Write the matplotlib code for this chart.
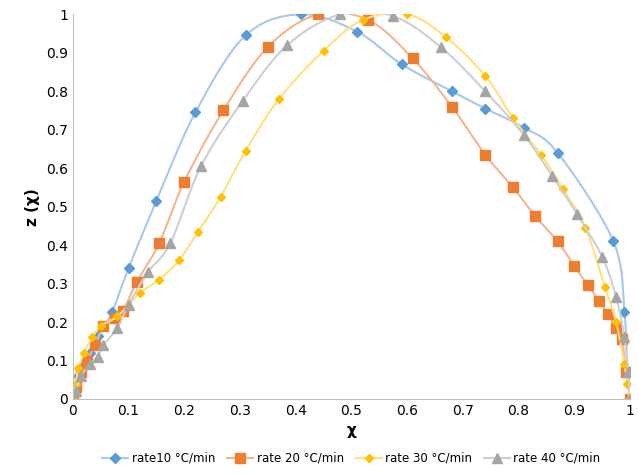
import numpy as np
import matplotlib
matplotlib.use("Agg")
import matplotlib.pyplot as plt

x10 = [0,0.005,0.01,0.02,0.03,0.045,0.07,0.1,0.15,0.22,0.31,0.41,0.51,0.59,0.68,0.74,0.81,0.87,0.97,0.99,0.995,1.0]
y10 = [0,0.03,0.06,0.09,0.12,0.165,0.225,0.34,0.515,0.745,0.945,1.0,0.955,0.87,0.80,0.755,0.705,0.64,0.41,0.225,0.07,0.0]
x20 = [0,0.005,0.015,0.025,0.04,0.055,0.075,0.09,0.115,0.155,0.2,0.27,0.35,0.44,0.53,0.61,0.68,0.74,0.79,0.83,0.87,0.9,0.925,0.945,0.96,0.975,0.985,0.993,1.0]
y20 = [0,0.03,0.07,0.1,0.14,0.19,0.21,0.23,0.305,0.405,0.565,0.75,0.915,1.0,0.985,0.885,0.76,0.635,0.55,0.475,0.41,0.345,0.295,0.255,0.22,0.185,0.155,0.07,0.0]
x30 = [0,0.005,0.01,0.02,0.035,0.05,0.08,0.12,0.155,0.19,0.225,0.265,0.31,0.37,0.45,0.52,0.6,0.67,0.74,0.79,0.84,0.88,0.92,0.955,0.975,0.99,0.995,1.0]
y30 = [0,0.04,0.08,0.12,0.16,0.19,0.215,0.275,0.31,0.36,0.435,0.525,0.645,0.78,0.905,0.985,1.0,0.94,0.84,0.73,0.635,0.545,0.445,0.29,0.2,0.09,0.04,0.0]
x40 = [0,0.005,0.015,0.03,0.045,0.055,0.08,0.1,0.135,0.175,0.23,0.305,0.385,0.48,0.575,0.66,0.74,0.81,0.86,0.905,0.95,0.975,0.99,0.997,1.0]
y40 = [0,0.02,0.06,0.09,0.11,0.14,0.185,0.245,0.33,0.405,0.605,0.775,0.92,1.0,0.995,0.915,0.8,0.685,0.58,0.48,0.37,0.265,0.16,0.07,0.0]

labels = ["rate10 °C/min", "rate 20 °C/min", "rate 30 °C/min", "rate 40 °C/min"]
mcol = ["#5B9BD5", "#ED7D31", "#FFC000", "#A5A5A5"]
lcol = ["#A9C8EA", "#F5B58F", "#FFE07F", "#CFCFCF"]
markers = ["D", "s", "D", "^"]
msz = [5.5, 6.5, 4.5, 6.5]

def catmull(x, y, n=20):
    P = np.column_stack([x, y]).astype(float)
    P = np.vstack([P[0], P, P[-1]])
    out = []
    for i in range(1, len(P) - 2):
        p0, p1, p2, p3 = P[i-1], P[i], P[i+1], P[i+2]
        t = np.linspace(0, 1, n)[:, None]
        c = 0.5 * ((2*p1) + (-p0 + p2)*t + (2*p0 - 5*p1 + 4*p2 - p3)*t**2 + (-p0 + 3*p1 - 3*p2 + p3)*t**3)
        out.append(c)
    c = np.vstack(out)
    return c[:, 0], c[:, 1]

fig = plt.figure(figsize=(6.39, 4.75), dpi=100)
ax = fig.add_axes([0.114, 0.16, 0.872, 0.81])
data = [(x10, y10), (x20, y20), (x30, y30), (x40, y40)]
for (x, y), lab, mc, lc, mk, s in zip(data, labels, mcol, lcol, markers, msz):
    sx, sy = catmull(x, y)
    ax.plot(sx, sy, color=lc, lw=1.5)
    ax.plot(x, y, ls="none", marker=mk, color=mc, ms=s)
    ax.plot([], [], color=lc, lw=1.5, marker=mk, mfc=mc, mec=mc, ms=s, label=lab)

ax.set_xlim(0, 1)
ax.set_ylim(0, 1)
ax.set_xticks(np.arange(0, 1.01, 0.1))
ax.set_xticklabels(["0", "0.1", "0.2", "0.3", "0.4", "0.5", "0.6", "0.7", "0.8", "0.9", "1"])
ax.set_yticks(np.arange(0, 1.01, 0.1))
ax.set_yticklabels(["0", "0.1", "0.2", "0.3", "0.4", "0.5", "0.6", "0.7", "0.8", "0.9", "1"])
ax.tick_params(labelsize=10, length=0, colors="black")
for s in ["top", "right"]:
    ax.spines[s].set_visible(False)
for s in ["left", "bottom"]:
    ax.spines[s].set_color("#BFBFBF")
ax.set_xlabel("χ", fontsize=11, fontweight="bold")
ax.set_ylabel("z (χ)", fontsize=11, fontweight="bold")
ax.legend(loc="upper center", bbox_to_anchor=(0.5, -0.11), ncol=4, frameon=False, fontsize=8.5,
          handlelength=2.2, handletextpad=0.3, columnspacing=1.0)
fig.savefig("out.png")
